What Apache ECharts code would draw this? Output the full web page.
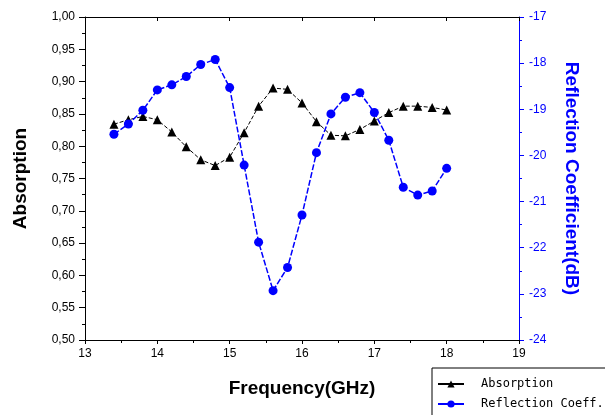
<!DOCTYPE html>
<html><head><meta charset="utf-8">
<script src="https://cdn.jsdelivr.net/npm/echarts@6/dist/echarts.min.js"></script>
<style>html,body{margin:0;padding:0;background:#fff}#c{width:605px;height:415px}</style>
</head><body><div id="c"></div>
<script>
const frequency = [13.4,13.6,13.8,14.0,14.2,14.4,14.6,14.8,15.0,15.2,15.4,15.6,15.8,16.0,16.2,16.4,16.6,16.8,17.0,17.2,17.4,17.6,17.8,18.0];
const absorption = [0.834,0.841,0.846,0.841,0.822,0.799,0.779,0.770,0.783,0.821,0.862,0.890,0.888,0.867,0.838,0.817,0.816,0.826,0.839,0.852,0.862,0.862,0.860,0.856];
const reflection = [-19.54,-19.32,-19.02,-18.58,-18.47,-18.29,-18.03,-17.92,-18.53,-20.21,-21.88,-22.93,-22.43,-21.29,-19.94,-19.10,-18.74,-18.64,-19.07,-19.67,-20.69,-20.86,-20.77,-20.28];
const seriesNames = ['Absorption','Reflection Coeff.'];
const blue = '#0000ff';
const font = 'Liberation Sans, Arial, sans-serif';

const chart = echarts.init(document.getElementById('c'));
chart.setOption({
  animation: false,
  backgroundColor: '#fff',
  grid: {left: 85, right: 86, top: 17, bottom: 75},
  legend: {
    orient: 'vertical', left: 432, top: 368, height: 80,
    padding: [10, 20, 8, 5], itemGap: 8, itemWidth: 26, itemHeight: 9,
    borderColor: '#000', borderWidth: 1, borderRadius: 0,
    textStyle: {fontFamily: 'DejaVu Sans Mono, monospace', fontSize: 12, color: '#000', padding: [0,0,0,12]},
    data: [
      {name: seriesNames[0], lineStyle: {type: 'solid'}},
      {name: seriesNames[1], lineStyle: {type: 'solid'}}
    ]
  },
  xAxis: [{
    type: 'value', min: 13, max: 19, interval: 1, position: 'bottom',
    name: 'Frequency(GHz)', nameLocation: 'middle', nameGap: 39,
    nameTextStyle: {fontFamily: font, fontSize: 19, fontWeight: 'bold', color: '#000'},
    axisLine: {onZero: false, lineStyle: {color: '#000', width: 1}},
    axisTick: {show: true, inside: false, length: 4, lineStyle: {color: '#000'}},
    minorTick: {show: true, splitNumber: 2, length: 3, lineStyle: {color: '#000'}},
    axisLabel: {fontFamily: font, fontSize: 12, color: '#000', margin: 8},
    splitLine: {show: false}
  }, {
    type: 'value', min: 13, max: 19, interval: 1, position: 'top',
    axisLine: {onZero: false, lineStyle: {color: '#000', width: 1}},
    axisTick: {show: true, inside: true, length: 4, lineStyle: {color: '#000'}},
    minorTick: {show: false},
    axisLabel: {show: false}, splitLine: {show: false}
  }],
  yAxis: [{
    type: 'value', min: 0.5, max: 1.0, interval: 0.05, position: 'left',
    name: 'Absorption', nameLocation: 'middle', nameGap: 55,
    nameTextStyle: {fontFamily: font, fontSize: 19, fontWeight: 'bold', color: '#000'},
    axisLine: {show: true, onZero: false, lineStyle: {color: '#000', width: 1}},
    axisTick: {show: true, inside: false, length: 6, lineStyle: {color: '#000'}},
    minorTick: {show: true, splitNumber: 2, length: 3, lineStyle: {color: '#000'}},
    axisLabel: {fontFamily: font, fontSize: 12, color: '#000', margin: 10,
      formatter: v => v.toFixed(2).replace('.', ',')},
    splitLine: {show: false}
  }, {
    type: 'value', min: -24, max: -17, interval: 1, position: 'right',
    name: 'Reflection Coefficient(dB)', nameLocation: 'middle', nameGap: 43, nameRotate: -90,
    nameTextStyle: {fontFamily: font, fontSize: 19, fontWeight: 'bold', color: blue},
    axisLine: {show: true, onZero: false, lineStyle: {color: blue, width: 1}},
    axisTick: {show: true, inside: false, length: 5, lineStyle: {color: blue}},
    minorTick: {show: true, splitNumber: 2, length: 3, lineStyle: {color: blue}},
    axisLabel: {fontFamily: font, fontSize: 12, color: blue, margin: 10},
    splitLine: {show: false}
  }],
  series: [{
    name: seriesNames[0], type: 'line', xAxisIndex: 0, yAxisIndex: 0,
    data: frequency.map((f, i) => [f, absorption[i]]),
    symbol: 'triangle', symbolSize: 9,
    itemStyle: {color: '#000'},
    lineStyle: {color: '#000', width: 1, type: [4, 2]}
  }, {
    name: seriesNames[1], type: 'line', xAxisIndex: 0, yAxisIndex: 1,
    data: frequency.map((f, i) => [f, reflection[i]]),
    symbol: 'circle', symbolSize: 9,
    itemStyle: {color: blue},
    lineStyle: {color: blue, width: 1.5, type: [6, 2]}
  }]
});
</script></body></html>
